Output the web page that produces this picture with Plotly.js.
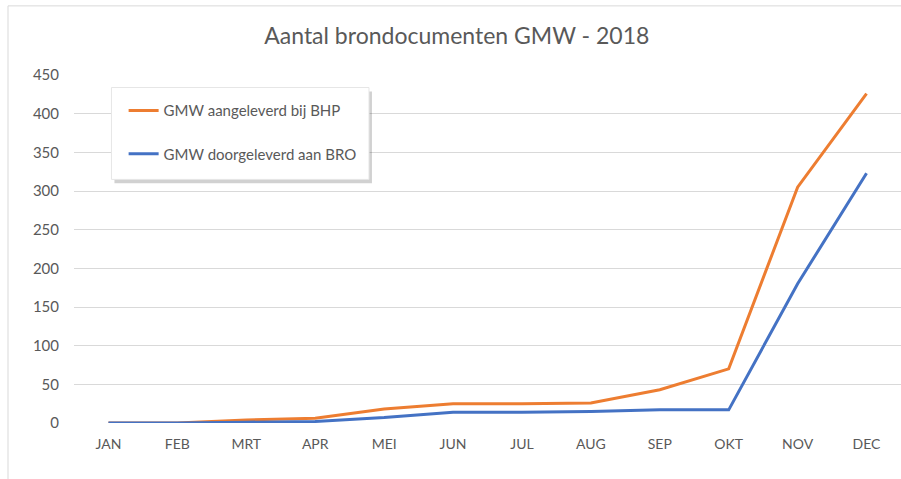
<!DOCTYPE html>
<html>
<head>
<meta charset="utf-8">
<script src="https://cdn.plot.ly/plotly-3.0.1.min.js"></script>
<style>
  html, body { margin: 0; padding: 0; background: #fff; }
  #chart { width: 901px; height: 479px; }
</style>
</head>
<body>
<div id="chart"></div>
<script>
// maanden
var months = ['JAN', 'FEB', 'MRT', 'APR', 'MEI', 'JUN', 'JUL', 'AUG', 'SEP', 'OKT', 'NOV', 'DEC'];

var aangeleverdBHP = [0, 0, 4, 6, 18, 25, 25, 26, 43, 70, 305, 426];
var doorgeleverdBRO = [0, 0, 1, 2, 7, 14, 14, 15, 17, 17, 180, 323];

var yTicks = [0, 50, 100, 150, 200, 250, 300, 350, 400, 450];

var fontFam = 'Lato, "Open Sans", sans-serif';
var grey = '#595959';

var bhpTrace = {
    x: months,
    y: aangeleverdBHP,
    type: 'scatter',
    mode: 'lines',
    name: 'GMW aangeleverd bij BHP',
    line: {color: '#ED7D31', width: 3},
    legend: 'legend'
};

var broTrace = {
    x: months,
    y: doorgeleverdBRO,
    type: 'scatter',
    mode: 'lines',
    name: 'GMW doorgeleverd aan BRO',
    line: {color: '#4472C4', width: 3},
    legend: 'legend2'
};

var legendBase = {
    xref: 'paper', yref: 'paper',
    xanchor: 'left', yanchor: 'middle',
    bgcolor: 'rgba(0,0,0,0)',
    borderwidth: 0,
    font: {family: fontFam, size: 15, color: grey}
};

var layout = {
    width: 901,
    height: 479,
    margin: {l: 74, r: 0, t: 75, b: 56},
    paper_bgcolor: '#fff',
    plot_bgcolor: '#fff',
    showlegend: true,
    title: {
        text: 'Aantal brondocumenten GMW - 2018',
        font: {family: fontFam, size: 23, color: grey},
        x: 0.507, xanchor: 'center',
        y: 0.925, yanchor: 'middle'
    },
    xaxis: {
        type: 'category',
        range: [-0.5, 11.5],
        showgrid: false,
        zeroline: false,
        showline: false,
        ticks: '',
        ticklabelstandoff: 11,
        tickfont: {family: fontFam, size: 14, color: grey},
        fixedrange: true
    },
    yaxis: {
        range: [0, 450],
        tickvals: yTicks,
        showgrid: true,
        gridcolor: '#d9d9d9',
        gridwidth: 1,
        zeroline: false,
        showline: false,
        ticks: '',
        ticklabelstandoff: 14,
        tickfont: {family: fontFam, size: 15, color: grey},
        fixedrange: true
    },
    legend: Object.assign({x: 0.06, y: 0.897}, legendBase),
    legend2: Object.assign({x: 0.06, y: 0.773}, legendBase),
    shapes: [
        // rand rond de grafiek
        {type: 'rect', xref: 'paper', yref: 'paper', layer: 'above',
         x0: -0.0798, x1: 1.2, y0: -0.5, y1: 1.1986,
         line: {color: '#d9d9d9', width: 1}, fillcolor: 'rgba(0,0,0,0)'},
        // schaduw van de legenda
        {type: 'rect', xref: 'paper', yref: 'paper', layer: 'above',
         x0: 0.0489, x1: 0.3603, y0: 0.6886, y1: 0.9526,
         line: {width: 0}, fillcolor: 'rgba(0,0,0,0.18)'},
        // legenda vak
        {type: 'rect', xref: 'paper', yref: 'paper', layer: 'above',
         x0: 0.0453, x1: 0.3567, y0: 0.7000, y1: 0.9640,
         line: {color: '#e6e6e6', width: 1}, fillcolor: '#ffffff'}
    ]
};

Plotly.newPlot('chart', [bhpTrace, broTrace], layout, {displayModeBar: false, staticPlot: true});
</script>
</body>
</html>
